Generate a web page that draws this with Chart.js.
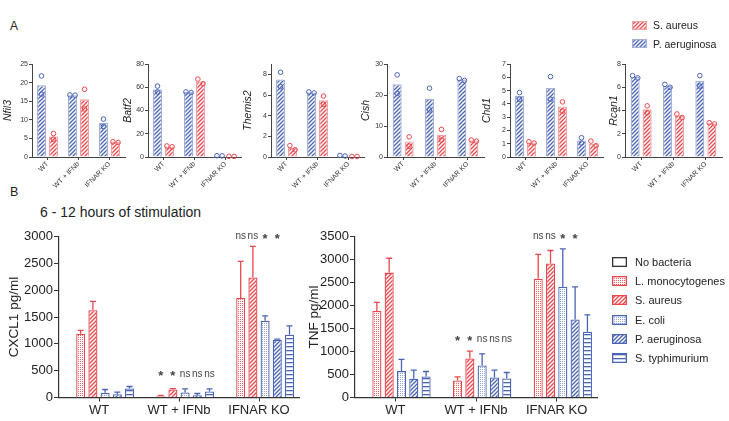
<!DOCTYPE html>
<html>
<head>
<meta charset="utf-8">
<script src="https://cdn.jsdelivr.net/npm/chart.js@4.4.1/dist/chart.umd.min.js"></script>
<style>
  body { margin: 0; width: 729px; height: 421px; position: relative; background: #fff; overflow: hidden;
         font-family: "Liberation Sans", Arial, sans-serif; color: #222; }
  .box { position: absolute; }
  .lbl { position: absolute; white-space: nowrap; line-height: 1; }
  .leg { position: absolute; display: flex; align-items: center; white-space: nowrap; height: 12px; }
</style>
</head>
<body>
<div class="lbl" style="left:10px;top:20px;font-size:12px">A</div>
<div class="lbl" style="left:10px;top:186px;font-size:12.5px">B</div>
<div class="lbl" style="left:40px;top:205px;font-size:14px">6 - 12 hours of stimulation</div>

<script>
// ---- panel A: fold change per gene ----
const topCategories = ['WT', 'WT + IFNb', 'IFNAR KO'];
const genes = ['Nfil3', 'Batf2', 'Themis2', 'Cish', 'Chd1', 'Rcan1'];
const geneMax = [25, 80, 9, 30, 7, 8];
const geneStep = [5, 20, 1, 10, 1, 2];
const paeruginosaFold = [
  [19.3, 16.6, 9.2],
  [58, 56, 1.0],
  [7.5, 6.25, 0.12],
  [23.5, 18.7, 25],
  [4.6, 5.2, 1.25],
  [6.9, 6.1, 6.55]
];
const saureusFold = [
  [5.5, 15.5, 4.0],
  [9, 65, 0.6],
  [0.9, 5.5, 0.05],
  [5.0, 7.2, 5.3],
  [1.1, 3.8, 1.0],
  [4.1, 3.55, 2.9]
];
const paeruginosaReps = [
  [[21.8, 16.9], [16.7, 16.6], [10.2, 8.2]],
  [[61, 56], [56, 55.5], [1.1, 1.0]],
  [[8.2, 6.8], [6.3, 6.2], [0.15, 0.1]],
  [[26.5, 20.5], [22.2, 15.2], [25.3, 24.7]],
  [[4.85, 4.35], [6.05, 4.35], [1.45, 1.05]],
  [[7.0, 6.8], [6.25, 6.0], [7.0, 6.1]]
];
const saureusReps = [
  [[6.3, 4.8], [18.2, 12.9], [4.1, 3.9]],
  [[9.5, 8.8], [67, 63], [0.6, 0.5]],
  [[1.1, 0.7], [5.9, 5.1], [0.05, 0.05]],
  [[6.5, 3.5], [8.9, 5.5], [5.5, 5.1]],
  [[1.15, 1.05], [4.15, 3.45], [1.2, 0.85]],
  [[4.4, 3.8], [3.7, 3.4], [2.95, 2.85]]
];

// ---- panel B: cytokines pg/ml ----
const groups = ['WT', 'WT + IFNb', 'IFNAR KO'];
const bacteria = ['No bacteria', 'L. monocytogenes', 'S. aureus', 'E. coli', 'P. aeruginosa', 'S. typhimurium'];
const cxcl1Mean = [
  [0, 0, 0],
  [1190, 25, 1855],
  [1625, 150, 2235],
  [87, 93, 1428],
  [62, 43, 1074],
  [170, 112, 1168]
];
const cxcl1Sd = [
  [0, 0, 0],
  [62, 12, 680],
  [166, 15, 580],
  [62, 68, 94],
  [37, 32, 13],
  [35, 50, 167]
];
const tnfMean = [
  [0, 0, 0],
  [1880, 370, 2580],
  [2715, 848, 2913],
  [574, 696, 2406],
  [406, 435, 1696],
  [456, 413, 1428]
];
const tnfSd = [
  [0, 0, 0],
  [190, 80, 530],
  [312, 160, 283],
  [254, 254, 826],
  [188, 159, 710],
  [109, 130, 369]
];
const cxcl1Sig = [[], ['*', '*', 'ns', 'ns', 'ns'], ['ns', 'ns', '*', '*', '']];
const cxcl1SigAt = [0, 440, 3000];
const tnfSig = [[], ['*', '*', 'ns', 'ns', 'ns'], ['ns', 'ns', '*', '*', '']];
const tnfSigAt = [0, 1275, 3500];

const RED = '#e8474c', BLUE = '#4a64b4';
const RED_LIGHT = '#f2a2a4', BLUE_LIGHT = '#a3b0dc';
const FONT = '"Liberation Sans", Arial, sans-serif';
const fills = ['none', 'dots', 'hatch', 'dots', 'hatch', 'hlines'];
const edges = ['#333', RED, RED, BLUE, BLUE, BLUE];
const dotAlpha = [0, 0.85, 0, 0.6, 0, 0];

function pattern(kind, color, alpha) {
  const c = document.createElement('canvas');
  const s = kind === 'dots' ? 2 : 4;
  c.width = c.height = s;
  const g = c.getContext('2d');
  g.fillStyle = '#fff';
  g.fillRect(0, 0, s, s);
  g.fillStyle = color;
  g.strokeStyle = color;
  if (kind === 'hatch') {
    g.lineWidth = 1.3;
    g.beginPath();
    g.moveTo(-1, 5); g.lineTo(5, -1);
    g.moveTo(-1, 1); g.lineTo(1, -1);
    g.moveTo(3, 5); g.lineTo(5, 3);
    g.stroke();
  } else if (kind === 'dots') {
    g.globalAlpha = alpha || 0.7;
    g.fillRect(0, 0, 1, 1);
  } else if (kind === 'hlines') {
    g.fillRect(0, 1, 4, 1.3);
  }
  return g.createPattern(c, 'repeat');
}

// error bars, replicate dots and significance marks, placed with the chart's own scales
const extras = {
  id: 'extras',
  afterDatasetsDraw(chart, args, o) {
    const ctx = chart.ctx, y = chart.scales.y;
    ctx.save();
    chart.data.datasets.forEach((ds, di) => {
      const meta = chart.getDatasetMeta(di);
      meta.data.forEach((bar, i) => {
        const v = ds.data[i];
        if (o.sd && o.sd[di][i] > 0) {
          const top = y.getPixelForValue(v + o.sd[di][i]);
          ctx.strokeStyle = ds.borderColor;
          ctx.lineWidth = 1.3;
          ctx.beginPath();
          ctx.moveTo(bar.x, bar.y); ctx.lineTo(bar.x, top);
          ctx.moveTo(bar.x - 3, top); ctx.lineTo(bar.x + 3, top);
          ctx.stroke();
        }
        if (o.reps) {
          const pts = o.reps[di][i].map(r => y.getPixelForValue(r));
          const r = 2.3;
          const close = Math.abs(pts[0] - pts[1]) < 2 * r + 0.5;
          ctx.strokeStyle = o.dotColors[di];
          ctx.lineWidth = 1;
          pts.forEach((py, k) => {
            const px = close ? bar.x + (k ? r + 0.3 : -r - 0.3) : bar.x;
            ctx.beginPath(); ctx.arc(px, py, r, 0, Math.PI * 2); ctx.stroke();
          });
        }
      });
    });
    if (o.sig) {
      ctx.fillStyle = '#444';
      ctx.textAlign = 'center';
      ctx.textBaseline = 'middle';
      o.sig.forEach((row, g) => {
        row.forEach((t, k) => {
          if (!t) return;
          const bar = chart.getDatasetMeta(k + 1).data[g];
          const py = y.getPixelForValue(o.sigAt[g]);
          if (t === '*') { ctx.font = 'bold 13px ' + FONT; ctx.fillText(t, bar.x, py + 3); }
          else { ctx.font = '10px ' + FONT; ctx.fillText(t, bar.x, py); }
        });
      });
    }
    ctx.restore();
  }
};
Chart.register(extras);

function place(left, top, width, height) {
  const box = document.createElement('div');
  box.className = 'box';
  box.style.cssText = `left:${left}px;top:${top}px;width:${width}px;height:${height}px`;
  const cv = document.createElement('canvas');
  box.appendChild(cv);
  document.body.appendChild(box);
  return cv;
}

// ---- top panels ----
const topAxisX = [32, 148, 271, 387, 510, 625];
const topWidth = [93, 93, 93, 97, 93, 97];
const topTitlePad = [0, 4, 1, 3, 1, 12.5];

genes.forEach((gene, i) => {
  const L = topAxisX[i] - 30;
  const cv = place(L, 55, 30 + topWidth[i] + 3, 135);
  const catPct = 24 / (topWidth[i] / 3);
  new Chart(cv, {
    type: 'bar',
    data: {
      labels: topCategories,
      datasets: [
        { label: 'P. aeruginosa', data: paeruginosaFold[i], backgroundColor: pattern('hatch', BLUE),
          borderColor: BLUE_LIGHT, borderWidth: 1.3, categoryPercentage: catPct, barPercentage: 0.75 },
        { label: 'S. aureus', data: saureusFold[i], backgroundColor: pattern('hatch', RED),
          borderColor: RED_LIGHT, borderWidth: 1.3, categoryPercentage: catPct, barPercentage: 0.75 }
      ]
    },
    options: {
      responsive: true,
      maintainAspectRatio: false,
      animation: false,
      layout: { padding: { top: 9, right: 3, left: 0, bottom: 0 } },
      plugins: {
        legend: { display: false },
        tooltip: { enabled: false },
        extras: { reps: [paeruginosaReps[i], saureusReps[i]], dotColors: [BLUE, RED] }
      },
      scales: {
        x: {
          grid: { drawOnChartArea: false, offset: false, tickLength: 3, color: '#444' },
          border: { color: '#444' },
          ticks: { font: { size: 7, family: FONT }, color: '#333', minRotation: 45, maxRotation: 45, padding: 0 },
          afterFit(s) { s.height = 33; }
        },
        y: {
          min: 0, max: geneMax[i],
          ticks: { stepSize: geneStep[i], font: { size: 7, family: FONT }, color: '#333', padding: 1 },
          grid: { drawOnChartArea: false, tickLength: 3, color: '#444' },
          border: { color: '#444' },
          title: { display: true, text: gene, color: '#222',
                   font: { size: 10.5, style: 'italic', family: FONT }, padding: { top: topTitlePad[i], bottom: 0 } },
          afterFit(s) { s.width = 30; }
        }
      }
    }
  });
});

// ---- bottom panels ----
function cytokine(left, width, yw, padRight, means, sds, max, title, sig, sigAt) {
  const cv = place(left, 225, width, 196);
  new Chart(cv, {
    type: 'bar',
    data: {
      labels: groups,
      datasets: bacteria.map((b, k) => ({
        label: b,
        data: means[k],
        backgroundColor: fills[k] === 'none' ? '#fff' : pattern(fills[k], edges[k], dotAlpha[k]),
        borderColor: edges[k],
        borderWidth: 1.3,
        categoryPercentage: 0.915,
        barPercentage: 0.74
      }))
    },
    options: {
      responsive: true,
      maintainAspectRatio: false,
      animation: false,
      layout: { padding: { top: 11.5, right: padRight, left: 0, bottom: 0 } },
      plugins: {
        legend: { display: false },
        tooltip: { enabled: false },
        extras: { sd: sds, sig: sig, sigAt: sigAt }
      },
      scales: {
        x: {
          grid: { drawOnChartArea: false, offset: false, tickLength: 4, color: '#333' },
          border: { color: '#333', width: 1.2 },
          ticks: { font: { size: 13, family: FONT }, color: '#222', maxRotation: 0, padding: 1 },
          afterFit(s) { s.height = 23.5; }
        },
        y: {
          min: 0, max: max,
          ticks: { stepSize: 500, font: { size: 13, family: FONT }, color: '#222', padding: 1,
                   callback: v => String(v) },
          grid: { drawOnChartArea: false, tickLength: 5, color: '#333' },
          border: { color: '#333', width: 1.2 },
          title: { display: true, text: title, color: '#222', font: { size: 13.5, family: FONT }, padding: { top: 6, bottom: 0 } },
          afterFit(s) { s.width = yw; }
        }
      }
    }
  });
}
cytokine(0, 310, 59, 11, cxcl1Mean, cxcl1Sd, 3000, 'CXCL1 pg/ml', cxcl1Sig, cxcl1SigAt);
cytokine(300, 300, 55, 3, tnfMean, tnfSd, 3500, 'TNF pg/ml', tnfSig, tnfSigAt);

// ---- legends ----
function legendRow(left, top, w, h, kind, color, edge, text, size, gap, alpha) {
  const row = document.createElement('div');
  row.className = 'leg';
  row.style.cssText = `left:${left}px;top:${top}px;font-size:${size}px`;
  const sw = document.createElement('canvas');
  sw.width = w; sw.height = h;
  sw.style.marginRight = gap + 'px';
  const g = sw.getContext('2d');
  g.fillStyle = kind === 'none' ? '#fff' : pattern(kind, color, alpha);
  g.fillRect(0, 0, w, h);
  g.strokeStyle = edge;
  g.lineWidth = 1.3;
  g.strokeRect(0.65, 0.65, w - 1.3, h - 1.3);
  row.appendChild(sw);
  const t = document.createElement('span');
  t.textContent = text;
  row.appendChild(t);
  document.body.appendChild(row);
}
legendRow(632, 19, 15, 9, 'hatch', RED, RED_LIGHT, 'S. aureus', 10.5, 6);
legendRow(632, 37.5, 15, 9, 'hatch', BLUE, BLUE_LIGHT, 'P. aeruginosa', 10.5, 6);
bacteria.forEach((b, k) => {
  legendRow(612, 256 + k * 19.2, 15, 10, fills[k], edges[k], edges[k], b, 11, 8, dotAlpha[k]);
});
</script>
</body>
</html>
